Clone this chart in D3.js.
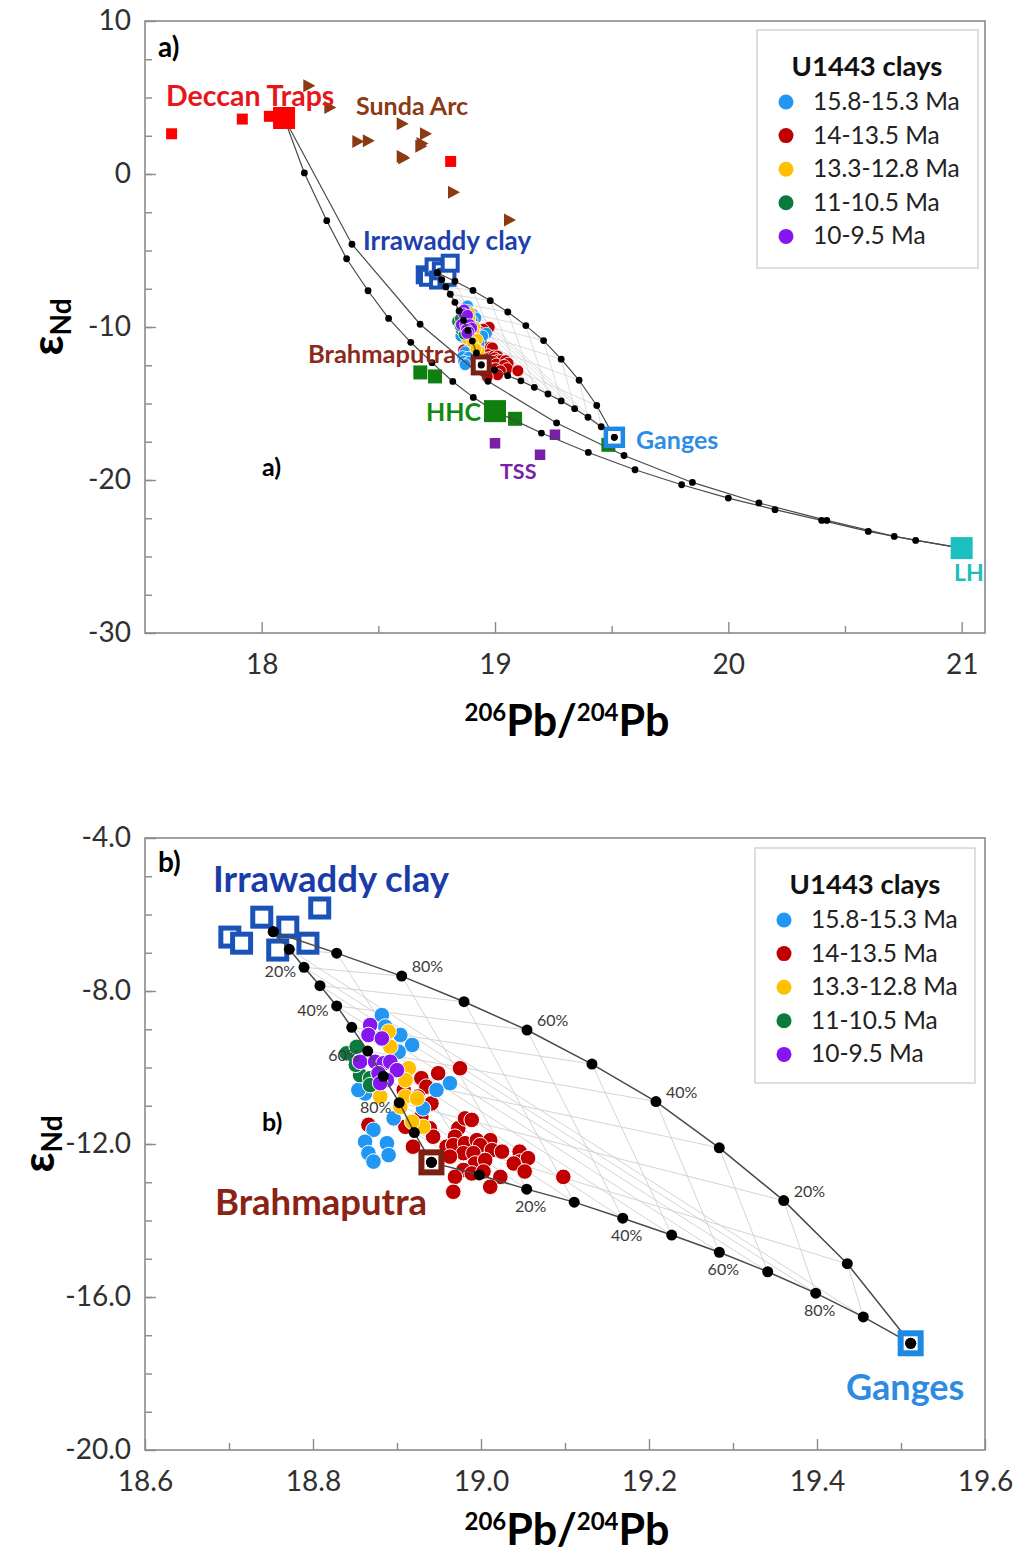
<!DOCTYPE html>
<html>
<head>
<meta charset="utf-8">
<script src="https://cdn.jsdelivr.net/npm/d3@7/dist/d3.min.js"></script>
<style>
  body { margin: 0; background: #fff; }
  svg { display: block; }
  text { font-family: Lato, "Open Sans", sans-serif; }
</style>
</head>
<body>
<svg id="chart" width="1025" height="1555"></svg>
<script>
// ---------------- data (206Pb/204Pb, εNd) ----------------
const clayGroups = ["15.8-15.3 Ma", "14-13.5 Ma", "13.3-12.8 Ma", "11-10.5 Ma", "10-9.5 Ma"];

const clay158 = [[18.882,-8.63],[18.886,-8.93],[18.904,-9.15],[18.918,-9.41],[18.902,-9.59],[18.963,-10.41],
  [18.947,-10.59],[18.862,-10.68],[18.854,-10.59],[18.931,-11.07],[18.896,-11.33],[18.872,-11.63],[18.862,-11.94],
  [18.888,-11.98],[18.866,-12.24],[18.890,-12.29],[18.872,-12.46]];
const clay140 = [[18.975,-10.02],[18.949,-10.15],[18.929,-10.28],[18.935,-10.50],[18.925,-10.76],[18.941,-10.94],
  [18.908,-10.59],[18.929,-11.29],[18.866,-11.50],[18.910,-11.55],[18.939,-11.59],[18.943,-11.81],[18.919,-12.07],
  [18.959,-12.07],[18.973,-11.59],[18.981,-11.33],[18.989,-11.37],[18.969,-11.81],[18.967,-12.03],[18.981,-11.98],
  [18.995,-11.90],[19.011,-11.90],[18.999,-12.03],[19.013,-12.16],[19.025,-12.20],[18.979,-12.24],[18.991,-12.24],
  [18.963,-12.33],[18.993,-12.51],[19.005,-12.42],[19.046,-12.20],[19.046,-12.46],[19.056,-12.37],[19.039,-12.51],
  [19.052,-12.72],[18.979,-12.68],[18.969,-12.86],[18.989,-12.77],[19.003,-12.72],[19.023,-12.86],[19.011,-13.12],
  [18.967,-13.25],[19.098,-12.86]];
const clay133 = [[18.890,-9.06],[18.892,-9.46],[18.914,-10.02],[18.910,-10.33],[18.880,-10.76],[18.910,-10.76],
  [18.924,-10.81],[18.904,-11.03],[18.931,-11.55],[18.918,-11.42]];
const clay110 = [[18.840,-9.63],[18.852,-9.46],[18.856,-10.20],[18.868,-10.28],[18.868,-10.46],[18.851,-9.93]];
const clay100 = [[18.868,-8.89],[18.866,-9.15],[18.882,-9.24],[18.856,-9.85],[18.874,-9.85],[18.884,-9.89],
  [18.892,-9.85],[18.900,-10.07],[18.878,-10.15],[18.888,-10.33],[18.880,-10.41]];
const claySeries = [clay158, clay140, clay133, clay110, clay100];

// source regions
const deccanTraps = [[17.614,2.63],[17.917,3.59],[18.033,3.77],[18.81,0.82]];
const deccanMean = [18.096,3.66];
const sundaArc = [[18.20,5.77],[18.29,4.35],[18.41,2.13],[18.455,2.18],[18.60,3.29],[18.70,2.63],[18.68,1.81],
  [18.685,2.0],[18.607,1.05],[18.60,1.15],[18.82,-1.2],[19.06,-3.0]];
const irrawaddyClay = [[18.701,-6.59],[18.715,-6.75],[18.739,-6.07],[18.758,-6.93],[18.770,-6.33],[18.794,-6.75],[18.808,-5.83]];
const brahmaputra = [18.941,-12.48];
const ganges = [19.5115,-17.21];
const hhc = [[18.68,-12.97],[18.743,-13.23],[19.086,-16.0],[19.486,-17.7]];
const hhcMean = [19.0,-15.5];
const tss = [[19.0,-17.6],[19.257,-17.04],[19.193,-18.35]];
const lh = [21.0,-24.45];

// mixing curves, 10 % steps
const mixDeccanLH = [[18.096,3.66],[18.387,-4.59],[18.679,-9.82],[18.970,-13.55],[19.264,-16.27],[19.553,-18.40],
  [19.846,-20.16],[20.131,-21.50],[20.422,-22.64],[20.711,-23.69],[21.0,-24.45]];
const mixDeccanHHC = [[18.096,3.66],[18.183,0.07],[18.279,-3.05],[18.364,-5.54],[18.456,-7.63],[18.544,-9.44],
  [18.639,-11.0],[18.730,-12.33],[18.819,-13.56],[18.907,-14.60],[19.0,-15.5]];
const mixHHCLH = [[19.0,-15.5],[19.199,-16.93],[19.400,-18.20],[19.600,-19.33],[19.800,-20.31],[20.000,-21.18],
  [20.200,-21.94],[20.400,-22.64],[20.600,-23.36],[20.803,-23.95],[21.0,-24.45]];
const mixIrrBrahma = [[18.7527,-6.45],[18.7718,-6.91],[18.7893,-7.38],[18.8083,-7.86],[18.8282,-8.39],[18.8461,-8.95],
  [18.8651,-9.57],[18.8837,-10.23],[18.9027,-10.92],[18.9206,-11.70],[18.941,-12.48]];
const mixIrrGanges = [[18.7527,-6.45],[18.8282,-7.01],[18.9056,-7.61],[18.9798,-8.28],[19.0548,-9.02],[19.1321,-9.91],
  [19.2083,-10.89],[19.2837,-12.10],[19.3604,-13.48],[19.4361,-15.13],[19.5115,-17.21]];
const mixBrahmaGanges = [[18.941,-12.48],[18.998,-12.81],[19.0544,-13.18],[19.111,-13.52],[19.1687,-13.94],[19.227,-14.38],
  [19.2837,-14.83],[19.3413,-15.34],[19.3985,-15.90],[19.4551,-16.52],[19.5115,-17.21]];

// percentage labels along the three-end-member curves (index on curve -> text)
const pctIndex = [2, 4, 6, 8];
const pctIrrBrahma = ["20%", "40%", "60%", "80%"];
const pctIrrGanges = ["80%", "60%", "40%", "20%"];
const pctBrahmaGanges = ["20%", "40%", "60%", "80%"];

// axis ticks
const ticksA = { xMajor: [18, 19, 20, 21], xMinor: [18.5, 19.5, 20.5],
                 yMajor: [-30, -20, -10, 0, 10], yMinor: d3.range(-27.5, 10, 2.5) };
const ticksB = { xMajor: [18.6, 18.8, 19.0, 19.2, 19.4, 19.6], xMinor: [18.7, 18.9, 19.1, 19.3, 19.5],
                 yMajor: [-20, -16, -12, -8, -4], yMinor: d3.range(-19, -4, 1) };

// ---------------- styles ----------------
const clayColors = ["#2196f3", "#c00000", "#ffc000", "#0b7a3e", "#8516f0"];
const col = {
  deccan: "#ff0000", sunda: "#8b3a12", irr: "#1a52b8", brahma: "#7b2012", ganges: "#1e88e5",
  hhc: "#0f800f", tss: "#7a1fa8", lh: "#1cbfbf", curve: "#4a4a4a", grid: "#cfcfcf", axis: "#8a8a8a"
};

const svg = d3.select("#chart");

function buildPanel(box) {
  const x = d3.scaleLinear().domain(box.xDomain).range([box.left, box.right]);
  const y = d3.scaleLinear().domain(box.yDomain).range([box.bottom, box.top]);
  return { x, y, box, g: svg.append("g") };
}

function drawAxes(P, t, fmtX, fmtY) {
  const { x, y, g, box } = P;
  const gx = g.append("g").attr("transform", `translate(0,${box.bottom})`);
  gx.append("g").call(d3.axisBottom(x).tickValues(t.xMinor).tickSize(-7).tickSizeOuter(0).tickFormat(""));
  gx.append("g").call(d3.axisBottom(x).tickValues(t.xMajor).tickSize(-11).tickSizeOuter(0).tickPadding(21).tickFormat(fmtX));
  const gy = g.append("g").attr("transform", `translate(${box.left},0)`);
  gy.append("g").call(d3.axisLeft(y).tickValues(t.yMinor).tickSize(-7).tickSizeOuter(0).tickFormat(""));
  gy.append("g").call(d3.axisLeft(y).tickValues(t.yMajor).tickSize(-11).tickSizeOuter(0).tickPadding(14).tickFormat(fmtY));
  g.selectAll(".domain").remove();
  g.selectAll(".tick line").attr("stroke", col.axis).attr("stroke-width", 1.4);
  g.selectAll(".tick text").attr("font-size", 28).attr("font-family", "Lato, sans-serif").attr("fill", "#303030");
  g.append("rect").attr("x", box.left).attr("y", box.top)
    .attr("width", box.right - box.left).attr("height", box.bottom - box.top)
    .attr("fill", "none").attr("stroke", col.axis).attr("stroke-width", 1.6);

  // axis titles
  const tx = g.append("text").attr("x", box.titleX).attr("y", box.bottom + box.titleDy)
    .attr("text-anchor", "middle").attr("font-weight", 700).attr("fill", "#000");
  tx.append("tspan").attr("font-size", 24).attr("dy", -15).text("206");
  tx.append("tspan").attr("font-size", 43).attr("dy", 15).text("Pb/");
  tx.append("tspan").attr("font-size", 24).attr("dy", -15).text("204");
  tx.append("tspan").attr("font-size", 43).attr("dy", 15).text("Pb");

  const cy = (box.top + box.bottom) / 2;
  const ty = g.append("text").attr("transform", `translate(${box.yTitleX},${cy}) rotate(-90)`)
    .attr("text-anchor", "middle").attr("font-weight", 700).attr("fill", "#000");
  ty.append("tspan").attr("font-size", 44).text("ε");
  ty.append("tspan").attr("font-size", 28).attr("dy", 8).text("Nd");
}

function drawGrid(P, r) {
  const { x, y, g } = P;
  const segs = [];
  for (let k = 1; k <= 9; k++) {
    segs.push([mixIrrBrahma[k], mixIrrGanges[k]]);
    segs.push([mixIrrGanges[k], mixBrahmaGanges[k]]);
    segs.push([mixIrrBrahma[k], mixBrahmaGanges[10 - k]]);
  }
  g.append("g").selectAll("line").data(segs).join("line")
    .attr("x1", d => x(d[0][0])).attr("y1", d => y(d[0][1]))
    .attr("x2", d => x(d[1][0])).attr("y2", d => y(d[1][1]))
    .attr("stroke", col.grid).attr("stroke-width", r.gridW);
}

function drawCurves(P, curves, r) {
  const { x, y, g } = P;
  const line = d3.line().x(d => x(d[0])).y(d => y(d[1]));
  g.append("g").selectAll("path").data(curves).join("path")
    .attr("d", line).attr("fill", "none").attr("stroke", col.curve).attr("stroke-width", r.curveW);
}

function drawDots(P, curves, r) {
  const { x, y, g } = P;
  const pts = curves.flat();
  g.append("g").selectAll("circle").data(pts).join("circle")
    .attr("cx", d => x(d[0])).attr("cy", d => y(d[1])).attr("r", r.dot).attr("fill", "#000");
}

function drawSquares(P, data, size, fill, stroke, sw) {
  const { x, y, g } = P;
  g.append("g").selectAll("rect").data(data).join("rect")
    .attr("x", d => x(d[0]) - size / 2).attr("y", d => y(d[1]) - size / 2)
    .attr("width", size).attr("height", size)
    .attr("fill", fill).attr("stroke", stroke).attr("stroke-width", sw);
}

function drawClays(P, r) {
  const { x, y, g } = P;
  const order = [1, 0, 2, 3, 4];
  order.forEach(i => {
    g.append("g").selectAll("circle").data(claySeries[i]).join("circle")
      .attr("cx", d => x(d[0])).attr("cy", d => y(d[1])).attr("r", r.clay)
      .attr("fill", clayColors[i]).attr("stroke", "#fff").attr("stroke-width", r.clayStroke);
  });
}

function drawLegend(g, L) {
  const lg = g.append("g");
  lg.append("rect").attr("x", L.x).attr("y", L.y).attr("width", L.w).attr("height", L.h)
    .attr("fill", "#fff").attr("stroke", "#d4d4d4").attr("stroke-width", 1.5);
  lg.append("text").attr("x", L.x + 110).attr("y", L.y + 46).attr("text-anchor", "middle")
    .attr("font-size", 27.5).attr("font-weight", 700).attr("fill", "#111").text("U1443 clays");
  clayGroups.forEach((name, i) => {
    const yy = L.y + 80 + i * 33.6;
    lg.append("circle").attr("cx", L.x + 29).attr("cy", yy - 8).attr("r", 7.5).attr("fill", clayColors[i]);
    lg.append("text").attr("x", L.x + 56).attr("y", yy).attr("font-size", 24.5).attr("fill", "#222").text(name);
  });
}

function drawLabels(g, list, weight) {
  g.append("g").selectAll("text").data(list).join("text")
    .attr("x", d => d.x).attr("y", d => d.y).attr("font-size", d => d.size)
    .attr("font-weight", weight).attr("fill", d => d.color).text(d => d.t);
}

// ---------------- panel a ----------------
const A = buildPanel({ left: 145, right: 985, top: 21, bottom: 633, xDomain: [17.5, 21.1], yDomain: [-30, 10],
  titleX: 567, titleDy: 103, yTitleX: 63 });
const rA = { gridW: 0.7, curveW: 1.2, dot: 3.4, clay: 6, clayStroke: 0.8 };
drawAxes(A, ticksA, d => String(d), d => String(d));
drawGrid(A, rA);
const longCurves = [mixDeccanLH, mixDeccanHHC, mixHHCLH];
const triCurves = [mixIrrBrahma, mixIrrGanges, mixBrahmaGanges];
drawSquares(A, deccanTraps, 11, col.deccan, "none", 0);
A.g.append("g").selectAll("path").data(sundaArc).join("path")
  .attr("d", "M-5,-6.5L7,0L-5,6.5Z")
  .attr("transform", d => `translate(${A.x(d[0])},${A.y(d[1])})`)
  .attr("fill", col.sunda);
drawSquares(A, hhc, 14, col.hhc, "none", 0);
drawSquares(A, tss, 10.5, col.tss, "none", 0);
drawSquares(A, irrawaddyClay, 15, "#fff", col.irr, 4);
drawClays(A, rA);
drawCurves(A, longCurves.concat(triCurves), rA);
drawSquares(A, [hhcMean], 22, col.hhc, "none", 0);
drawSquares(A, [deccanMean], 22, col.deccan, "none", 0);
drawSquares(A, [lh], 22, col.lh, "none", 0);
drawSquares(A, [brahmaputra], 16, "#fff", col.brahma, 5);
drawSquares(A, [ganges], 17, "#fff", col.ganges, 4.5);
drawDots(A, longCurves.map(c => c.slice(1, 10)).concat(triCurves), rA);
drawLabels(A.g, [
  { t: "Deccan Traps", x: 166, y: 106, size: 28.5, color: "#e8161b" },
  { t: "Sunda Arc", x: 356, y: 115, size: 25, color: "#8b3a14" },
  { t: "Irrawaddy clay", x: 363, y: 250, size: 26, color: "#1e3fae" },
  { t: "Brahmaputra", x: 308, y: 363, size: 25.5, color: "#8b2a1a" },
  { t: "HHC", x: 426, y: 421, size: 25, color: "#128a12" },
  { t: "TSS", x: 500, y: 479, size: 21.5, color: "#7a1fa8" },
  { t: "Ganges", x: 636, y: 449, size: 25, color: "#2f8de4" },
  { t: "LH", x: 954, y: 581, size: 23, color: "#1cbdbd" }
], 700);
drawLegend(A.g, { x: 757, y: 30, w: 221, h: 238 });
A.g.append("text").attr("x", 158).attr("y", 57).attr("font-size", 28).attr("font-weight", 700).text("a)");
A.g.append("text").attr("x", 262).attr("y", 476).attr("font-size", 25).attr("font-weight", 700)
  .attr("font-family", "'Liberation Serif', serif").text("a)");

// ---------------- panel b ----------------
const B = buildPanel({ left: 145, right: 985, top: 838, bottom: 1450, xDomain: [18.6, 19.6], yDomain: [-20, -4],
  titleX: 567, titleDy: 95, yTitleX: 54 });
const rB = { gridW: 0.9, curveW: 1.5, dot: 5.5, clay: 7.8, clayStroke: 1 };
drawAxes(B, ticksB, d => d.toFixed(1), d => d.toFixed(1));
drawGrid(B, rB);
drawSquares(B, irrawaddyClay, 18, "#fff", col.irr, 5);
drawClays(B, rB);
drawCurves(B, triCurves, rB);
drawSquares(B, [brahmaputra], 20, "#fff", col.brahma, 6);
drawSquares(B, [ganges], 20, "#fff", col.ganges, 6);
drawDots(B, triCurves, rB);

const pctG = B.g.append("g").attr("font-size", 16).attr("fill", "#3a3a3a");
pctIndex.forEach((k, i) => {
  pctG.append("text").attr("x", B.x(mixIrrBrahma[k][0]) - 8).attr("y", B.y(mixIrrBrahma[k][1]) + 10)
    .attr("text-anchor", "end").text(pctIrrBrahma[i]);
  pctG.append("text").attr("x", B.x(mixIrrGanges[k][0]) + 10).attr("y", B.y(mixIrrGanges[k][1]) - 4)
    .text(pctIrrGanges[i]);
  pctG.append("text").attr("x", B.x(mixBrahmaGanges[k][0]) + 4).attr("y", B.y(mixBrahmaGanges[k][1]) + 23)
    .attr("text-anchor", "middle").text(pctBrahmaGanges[i]);
});

drawLabels(B.g, [
  { t: "Irrawaddy clay", x: 213, y: 892, size: 36.5, color: "#1a3ca8" },
  { t: "Brahmaputra", x: 215, y: 1215, size: 36.5, color: "#8b2315" },
  { t: "Ganges", x: 846, y: 1400, size: 36, color: "#2d8ce0" }
], 700);
drawLegend(B.g, { x: 755, y: 848, w: 220, h: 235 });
B.g.append("text").attr("x", 158).attr("y", 872).attr("font-size", 28).attr("font-weight", 700).text("b)");
B.g.append("text").attr("x", 262).attr("y", 1131).attr("font-size", 25).attr("font-weight", 700)
  .attr("font-family", "'Liberation Serif', serif").text("b)");
</script>
</body>
</html>
